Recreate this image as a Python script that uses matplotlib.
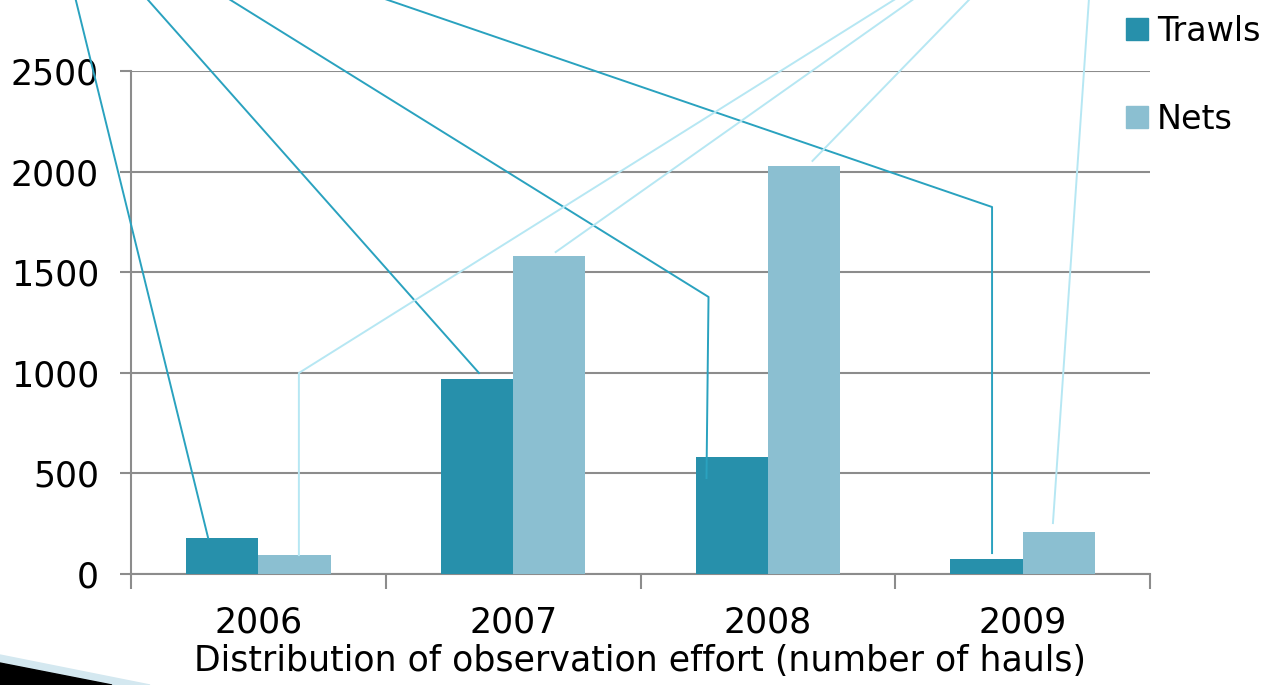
import matplotlib
matplotlib.use("Agg")
from matplotlib import pyplot as plt
from matplotlib.patches import Polygon, Patch
import numpy as np

years = ["2006", "2007", "2008", "2009"]
trawls = [178, 969, 582, 75]
nets = [94, 1580, 2028, 209]
yticks = [0, 500, 1000, 1500, 2000, 2500]
xlabel = "Distribution of observation effort (number of hauls)"

trawl_color = "#2790ab"
net_color = "#8bbfd1"
trawl_line = "#2aa2bf"
net_line = "#b6e7f3"
grid_color = "#8c8c8c"

plt.rcParams['font.family'] = ['DejaVu Sans']
font_size = 25

fig = plt.figure(figsize=(12.67, 6.85), dpi=100)
ax = fig.add_axes([131 / 1267, 111 / 685, 1019 / 1267, 503 / 685])

x = np.arange(len(years))
w = 0.284
ax.bar(x - w / 2, trawls, width=w, color=trawl_color, zorder=3)
ax.bar(x + w / 2, nets, width=w, color=net_color, zorder=3)

ax.set_xlim(-0.5, len(years) - 0.5)
ax.set_ylim(0, 2500)
ax.set_yticks(yticks)
ax.set_yticklabels([str(v) for v in yticks], fontsize=font_size)
ax.yaxis.grid(True, color=grid_color, linewidth=1.5, zorder=0)
ax.tick_params(axis='y', length=8, width=1.5, color=grid_color, pad=15)

# category boundaries carry the ticks, labels sit in between
ax.set_xticks(np.arange(len(years) + 1) - 0.5)
ax.set_xticklabels([])
ax.set_xticks(x, minor=True)
ax.set_xticklabels(years, minor=True, fontsize=font_size)
ax.tick_params(axis='x', which='major', length=11, width=1.5, color=grid_color)
ax.tick_params(axis='x', which='minor', length=0, pad=23)
ax.set_xlabel(xlabel, fontsize=font_size, labelpad=3)

for side in ['top', 'right']:
    ax.spines[side].set_visible(False)
for side in ['left', 'bottom']:
    ax.spines[side].set_color(grid_color)
    ax.spines[side].set_linewidth(1.5)

# callout leader lines from outside the chart to the bars
top = 2870
trawl_leaders = [
    [(-0.72, top), (-w / 2 - 0.055, trawls[0])],
    [(-0.445, top), (1 - w / 2 + 0.008, trawls[1] + 30)],
    [(-0.131, top), (2 - w / 2 - 0.091, 1377), (2 - w / 2 - 0.099, trawls[2] - 105)],
    [(0.469, top), (3 - w / 2 + 0.022, 1824), (3 - w / 2 + 0.022, trawls[3] + 29)],
]
net_leaders = [
    [(2.516, top), (w / 2 + 0.017, 999), (w / 2 + 0.017, nets[0])],
    [(2.586, top), (1 + w / 2 + 0.025, nets[1] + 20)],
    [(2.802, top), (2 + w / 2 + 0.033, nets[2] + 25)],
    [(3.261, top), (3 + w / 2 - 0.023, nets[3] + 44)],
]
for pts, col in [(p, trawl_line) for p in trawl_leaders] + [(p, net_line) for p in net_leaders]:
    xs, ys = zip(*pts)
    ax.plot(xs, ys, color=col, linewidth=1.4, clip_on=False, zorder=4)

handles = [Patch(color=trawl_color, label="Trawls"), Patch(color=net_color, label="Nets")]
fig.legend(handles=handles, loc='upper left', bbox_to_anchor=(1116 / 1267, 1 - 5 / 685),
           frameon=False, fontsize=24, handlelength=0.65, handleheight=0.65,
           handletextpad=0.28, labelspacing=1.65, borderpad=0.3, borderaxespad=0)

# slide decoration in the bottom-left corner
fig.patches.append(Polygon([(0, 30 / 685), (150 / 1267, 0), (0, 0)], closed=True,
                           transform=fig.transFigure, color="#d4e8f0", zorder=5))
fig.patches.append(Polygon([(0, 22 / 685), (112 / 1267, 0), (0, 0)], closed=True,
                           transform=fig.transFigure, color="black", zorder=6))

plt.savefig("out.png", dpi=100)
